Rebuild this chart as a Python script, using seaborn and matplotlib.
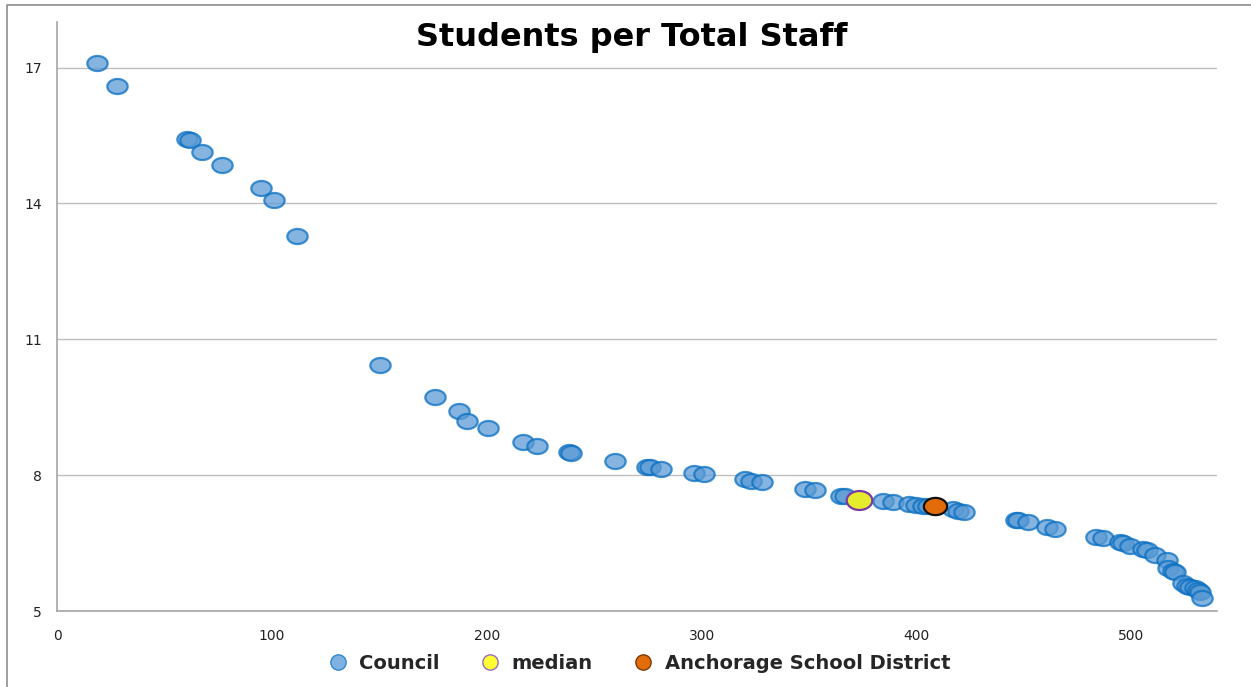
import numpy as np
import pandas as pd
import matplotlib
matplotlib.use("Agg")
import matplotlib.pyplot as plt
from matplotlib.lines import Line2D
import seaborn as sns

# --- data ---
council_x = [18.6, 28.0, 60.6, 62.0, 67.6, 76.9, 95.0, 101.0, 111.8,
             150.5, 175.7, 186.9, 190.6, 200.8, 216.7, 223.2, 238.1, 239.0,
             259.6, 274.5, 275.9, 281.3, 296.5, 301.2, 320.1, 322.9, 327.9,
             348.1, 352.8, 364.9, 366.7, 384.3, 388.9, 396.7, 399.8, 402.9,
             405.5, 416.9, 419.2, 422.0, 446.4, 447.5, 451.9, 460.9, 464.3,
             483.7, 486.8, 494.6, 496.0, 499.3, 505.5, 507.5, 510.9, 516.4,
             517.2, 519.5, 520.5, 524.2, 526.0, 527.3, 529.6, 531.0, 532.0, 533.1]
council_y = [17.09, 16.60, 15.43, 15.39, 15.13, 14.84, 14.35, 14.07, 13.29,
             10.43, 9.72, 9.41, 9.19, 9.04, 8.73, 8.64, 8.51, 8.49,
             8.31, 8.19, 8.18, 8.13, 8.05, 8.02, 7.91, 7.87, 7.84,
             7.69, 7.68, 7.55, 7.53, 7.42, 7.41, 7.36, 7.33, 7.31,
             7.31, 7.25, 7.21, 7.19, 7.02, 7.01, 6.96, 6.85, 6.81,
             6.63, 6.61, 6.52, 6.50, 6.43, 6.36, 6.35, 6.24, 6.13,
             5.94, 5.89, 5.86, 5.62, 5.56, 5.54, 5.50, 5.47, 5.43, 5.28]
median_x = [373.4]
median_y = [7.45]
anchorage_x = [408.8]
anchorage_y = [7.32]

x_ticks = [0, 100, 200, 300, 400, 500]
y_ticks = [5, 8, 11, 14, 17]

council = pd.DataFrame({"x": council_x, "y": council_y})
median = pd.DataFrame({"x": median_x, "y": median_y})
anchorage = pd.DataFrame({"x": anchorage_x, "y": anchorage_y})

# ellipse marker (Excel circles come out stretched in the original)
t = np.linspace(0, 2 * np.pi, 80)
ellipse = list(zip(1.35 * np.cos(t), np.sin(t)))

sns.set_style("white")
plt.rcParams['font.family'] = ['DejaVu Sans']

fig = plt.figure(figsize=(12.51, 6.87), dpi=100)
ax = fig.add_axes([0.0456, 0.1106, 0.9274, 0.857])

sns.scatterplot(data=council, x="x", y="y", ax=ax, marker=ellipse, s=215,
                color="#5b9bd5", alpha=0.75, edgecolor="#0a6fc2", linewidth=1.6,
                zorder=3)
sns.scatterplot(data=median, x="x", y="y", ax=ax, marker=ellipse, s=340,
                color="#e5ec2c", edgecolor="#7b3aa8", linewidth=1.6, zorder=4)
sns.scatterplot(data=anchorage, x="x", y="y", ax=ax, marker=ellipse, s=280,
                color="#e36c0a", edgecolor="#111111", linewidth=1.6, zorder=5)

ax.set_xlim(0, 540)
ax.set_ylim(5, 18)
ax.set_xticks(x_ticks)
ax.set_yticks(y_ticks)
ax.set_xlabel("")
ax.set_ylabel("")
ax.tick_params(axis="both", labelsize=10, colors="#222222", length=5,
               width=1, direction="out", color="#a6a6a6", pad=6)
ax.tick_params(axis="x", pad=8)
ax.yaxis.grid(True, color="#bfbfbf", linewidth=1)
ax.xaxis.grid(False)
for side in ["top", "right"]:
    ax.spines[side].set_visible(False)
for side in ["left", "bottom"]:
    ax.spines[side].set_color("#a6a6a6")
    ax.spines[side].set_linewidth(1.2)

fig.text(0.505, 0.946, "Students per Total Staff", ha="center", va="center",
         fontsize=23, fontweight="bold", color="black")

handles = [
    Line2D([], [], marker="o", linestyle="", markersize=11,
           markerfacecolor="#7fb2e0", markeredgecolor="#2e86d1"),
    Line2D([], [], marker="o", linestyle="", markersize=11,
           markerfacecolor="#ffff33", markeredgecolor="#9b6ac0"),
    Line2D([], [], marker="o", linestyle="", markersize=11,
           markerfacecolor="#e36c0a", markeredgecolor="#7a3a05"),
]
fig.legend(handles, ["Council", "median", "Anchorage School District"],
           loc="center", bbox_to_anchor=(0.507, 0.034), ncol=3, frameon=False,
           prop={"weight": "bold", "size": 14}, handletextpad=0.1,
           columnspacing=1.6)

# outer chart frame (top and left edges visible in the original crop)
fig.add_artist(Line2D([0.0056, 0.0056, 1.0], [0.0, 0.9927, 0.9927],
                      color="#8c8c8c", linewidth=1.2,
                      transform=fig.transFigure))

fig.savefig("out.png", dpi=100)
